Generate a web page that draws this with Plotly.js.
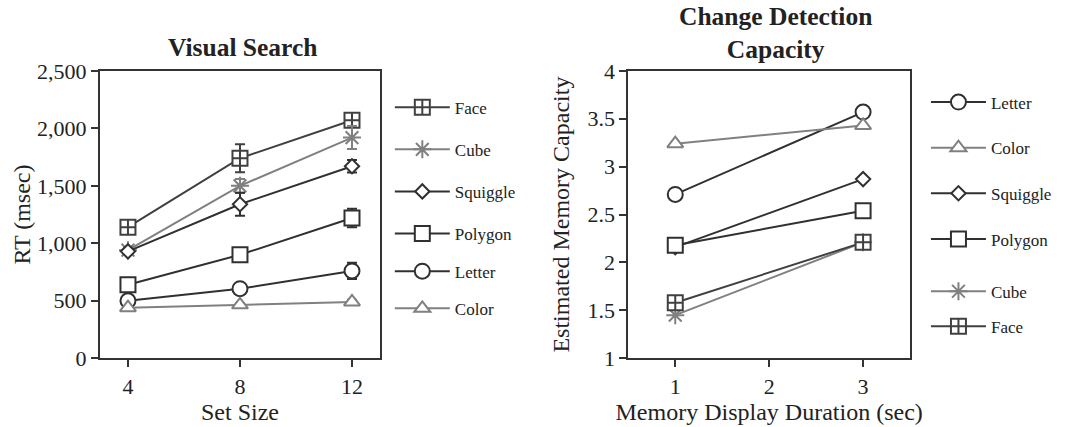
<!DOCTYPE html>
<html>
<head>
<meta charset="utf-8">
<script src="https://cdn.plot.ly/plotly-3.0.1.min.js"></script>
<style>html,body{margin:0;padding:0;background:#fff;}#chart{width:1068px;height:427px;}</style>
</head>
<body>
<div id="chart"></div>
<script>
// ---- Visual Search data ----
const setSizes = [4, 8, 12];
const vsNames = ["Face", "Cube", "Squiggle", "Polygon", "Letter", "Color"];
const vsFace = [1140, 1740, 2070];
const vsCube = [940, 1500, 1920];
const vsSquiggle = [930, 1340, 1670];
const vsPolygon = [640, 900, 1220];
const vsLetter = [500, 605, 760];
const vsColor = [440, 465, 490];
const vsFaceErr = [25, 122, 40];
const vsCubeErr = [20, 60, 100];
const vsSquiggleErr = [20, 100, 55];
const vsPolygonErr = [20, 30, 80];
const vsLetterErr = [15, 25, 70];
const vsColorErr = [15, 15, 20];

// ---- Change Detection data ----
const durations = [1, 3];
const cdNames = ["Letter", "Color", "Squiggle", "Polygon", "Cube", "Face"];
const cdLetter = [2.71, 3.57];
const cdColor = [3.24, 3.43];
const cdSquiggle = [2.16, 2.87];
const cdPolygon = [2.18, 2.54];
const cdCube = [1.45, 2.21];
const cdFace = [1.58, 2.21];

const DARK = '#303030', GRAY = '#808080', FACE = '#404040';
const FONT = 'Liberation Serif, Times New Roman, serif';

const style = {
  Face:     {symbol: 'square-cross', size: 15, color: FACE},
  Cube:     {symbol: 'asterisk-open', size: 15, color: GRAY},
  Squiggle: {symbol: 'diamond', size: 11, color: DARK},
  Polygon:  {symbol: 'square', size: 15, color: DARK},
  Letter:   {symbol: 'circle', size: 15, color: DARK},
  Color:    {symbol: 'triangle-up', size: 14, color: GRAY}
};

function mk(name, x, y, err, xa, ya, legend) {
  const s = style[name];
  const isAst = s.symbol.indexOf('asterisk') === 0;
  const t = {
    type: 'scatter', mode: 'lines+markers', name: name, x: x, y: y,
    xaxis: xa, yaxis: ya, legend: legend, legendgroup: legend + name,
    line: {color: s.color, width: 2},
    marker: {symbol: s.symbol, size: s.size,
      color: isAst ? s.color : 'white',
      line: {color: s.color, width: 2}},
    cliponaxis: false
  };
  if (err) t.error_y = {type: 'data', array: err, visible: true, color: s.color, thickness: 2, width: 5};
  return t;
}

const traces = [
  mk('Face', setSizes, vsFace, vsFaceErr, 'x', 'y', 'legend'),
  mk('Cube', setSizes, vsCube, vsCubeErr, 'x', 'y', 'legend'),
  mk('Squiggle', setSizes, vsSquiggle, vsSquiggleErr, 'x', 'y', 'legend'),
  mk('Polygon', setSizes, vsPolygon, vsPolygonErr, 'x', 'y', 'legend'),
  mk('Letter', setSizes, vsLetter, vsLetterErr, 'x', 'y', 'legend2'),
  mk('Color', setSizes, vsColor, vsColorErr, 'x', 'y', 'legend2'),
  mk('Letter', durations, cdLetter, null, 'x2', 'y2', 'legend3'),
  mk('Color', durations, cdColor, null, 'x2', 'y2', 'legend3'),
  mk('Squiggle', durations, cdSquiggle, null, 'x2', 'y2', 'legend3'),
  mk('Polygon', durations, cdPolygon, null, 'x2', 'y2', 'legend3'),
  mk('Cube', durations, cdCube, null, 'x2', 'y2', 'legend4'),
  mk('Face', durations, cdFace, null, 'x2', 'y2', 'legend4')
];

const axBase = {
  showline: true, mirror: true, linecolor: '#333', linewidth: 2,
  ticks: 'outside', ticklen: 7, tickwidth: 2, tickcolor: '#333',
  showgrid: false, zeroline: false,
  tickfont: {family: FONT, size: 22, color: '#222'},
  fixedrange: true
};
function ax(extra) { return Object.assign({}, axBase, extra); }
const TITLEFONT = {family: FONT, size: 24, color: '#222'};

const legBase = {
  xanchor: 'left', yanchor: 'top', bgcolor: 'rgba(0,0,0,0)', borderwidth: 0,
  font: {family: FONT, size: 17, color: '#222'}, traceorder: 'grouped',
  itemwidth: 55
};
function leg(extra) { return Object.assign({}, legBase, extra); }

const layout = {
  width: 1068, height: 427,
  margin: {l: 0, r: 0, t: 0, b: 0},
  paper_bgcolor: '#fff', plot_bgcolor: '#fff',
  showlegend: true,
  xaxis: ax({domain: [0.0936, 0.3558], range: [3, 13], tickvals: setSizes, anchor: 'y',
    title: {text: 'Set Size', font: TITLEFONT, standoff: 6}}),
  yaxis: ax({domain: [0.161, 0.834], range: [0, 2500], dtick: 500, tickformat: ',', anchor: 'x',
    title: {text: 'RT (msec)', font: TITLEFONT}}),
  xaxis2: ax({domain: [0.5883, 0.8521], range: [0.5, 3.5], dtick: 1, anchor: 'y2',
    title: {text: 'Memory Display Duration (sec)', font: TITLEFONT, standoff: 6}}),
  yaxis2: ax({domain: [0.161, 0.834], range: [1, 4], dtick: 0.5, anchor: 'x2',
    title: {text: 'Estimated Memory Capacity', font: TITLEFONT}}),
  legend: leg({x: 0.365, y: 0.79, tracegroupgap: 17}),
  legend2: leg({x: 0.365, y: 0.406, tracegroupgap: 12}),
  legend3: leg({x: 0.867, y: 0.802, tracegroupgap: 20.5}),
  legend4: leg({x: 0.867, y: 0.359, tracegroupgap: 10}),
  annotations: [
    {text: '<b>Visual Search</b>', xref: 'paper', yref: 'paper', x: 0.2266, y: 1 - 47 / 427,
      xanchor: 'center', yanchor: 'middle', showarrow: false,
      font: {family: FONT, size: 25.5, color: '#222'}},
    {text: '<b>Change Detection<br>Capacity</b>', xref: 'paper', yref: 'paper', x: 0.7257, y: 1 - 33 / 427,
      xanchor: 'center', yanchor: 'middle', showarrow: false,
      font: {family: FONT, size: 25.5, color: '#222'}}
  ]
};

Plotly.newPlot('chart', traces, layout, {displayModeBar: false, staticPlot: true});
</script>
</body>
</html>
